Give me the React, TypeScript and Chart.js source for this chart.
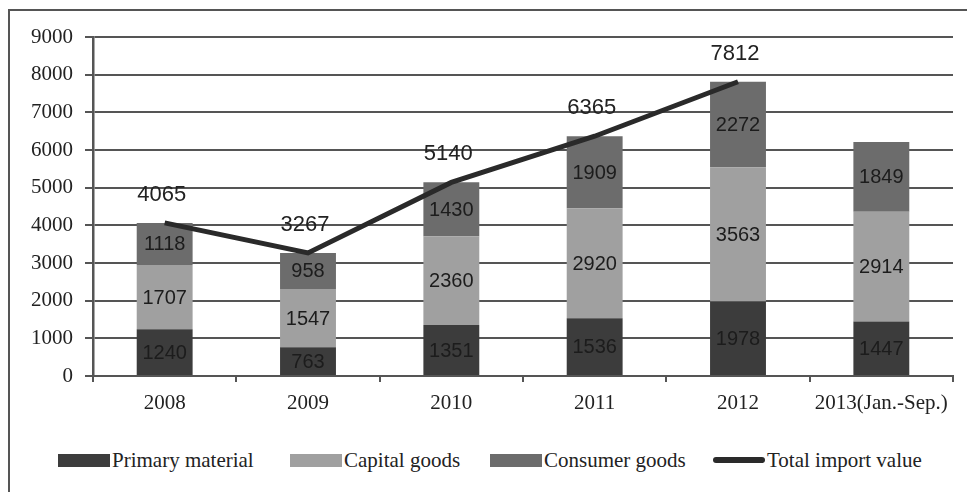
import React, { useEffect, useRef } from "react";
import { Chart, registerables } from "chart.js";

Chart.register(...registerables);

const categories = ["2008", "2009", "2010", "2011", "2012", "2013(Jan.-Sep.)"];
const primaryMaterial = [1240, 763, 1351, 1536, 1978, 1447];
const capitalGoods = [1707, 1547, 2360, 2920, 3563, 2914];
const consumerGoods = [1118, 958, 1430, 1909, 2272, 1849];
const totalImport: (number | null)[] = [4065, 3267, 5140, 6365, 7812, null];
const yTicks = [0, 1000, 2000, 3000, 4000, 5000, 6000, 7000, 8000, 9000];

const legendItems = [
  { label: "Primary material", color: "#3c3c3c", kind: "box", left: 48 },
  { label: "Capital goods", color: "#a0a0a0", kind: "box", left: 280 },
  { label: "Consumer goods", color: "#6c6c6c", kind: "box", left: 480 },
  { label: "Total import value", color: "#2a2a2a", kind: "line", left: 703 },
];

const SERIF = "'Liberation Serif', 'Times New Roman', serif";
const SANS = "'Liberation Sans', Arial, sans-serif";

const labelPlugin = {
  id: "valueLabels",
  afterDatasetsDraw(chart: any) {
    const ctx = chart.ctx;
    ctx.save();
    ctx.textAlign = "center";
    ctx.textBaseline = "middle";
    chart.data.datasets.forEach((ds: any, i: number) => {
      const meta = chart.getDatasetMeta(i);
      meta.data.forEach((el: any, j: number) => {
        const v = ds.data[j];
        if (v == null) return;
        if (ds.type === "line") {
          ctx.font = "22px " + SANS;
          ctx.fillStyle = "#222";
          ctx.fillText(String(v), el.x - 3, el.y - 28);
        } else {
          const yc = (el.y + el.base) / 2;
          ctx.font = "20px " + SANS;
          ctx.fillStyle = "#1c1c1c";
          ctx.fillText(String(v), el.x, yc + 1);
        }
      });
    });
    ctx.restore();
  },
};

export default function App() {
  const ref = useRef<HTMLCanvasElement>(null);
  useEffect(() => {
    if (!ref.current) return;
    const chart = new Chart(ref.current, {
      type: "bar",
      data: {
        labels: categories,
        datasets: [
          {
            type: "line",
            label: "Total import value",
            data: totalImport,
            borderColor: "#2a2a2a",
            backgroundColor: "#2a2a2a",
            borderWidth: 5,
            pointRadius: 0,
            stack: "total",
            order: 0,
            spanGaps: false,
          } as any,
          {
            label: "Primary material",
            data: primaryMaterial,
            backgroundColor: "#3c3c3c",
            stack: "bars",
            order: 1,
          },
          {
            label: "Capital goods",
            data: capitalGoods,
            backgroundColor: "#a0a0a0",
            stack: "bars",
            order: 1,
          },
          {
            label: "Consumer goods",
            data: consumerGoods,
            backgroundColor: "#6c6c6c",
            stack: "bars",
            order: 1,
          },
        ],
      },
      options: {
        responsive: false,
        animation: false,
        layout: { padding: { top: 26, right: 14, left: 0, bottom: 0 } },
        datasets: {
          bar: { categoryPercentage: 1, barPercentage: 0.39 },
        },
        plugins: {
          legend: { display: false },
          tooltip: { enabled: false },
        },
        scales: {
          x: {
            stacked: true,
            offset: true,
            grid: {
              offset: true,
              drawOnChartArea: false,
              drawTicks: true,
              tickLength: 6,
              color: "#555",
              lineWidth: 2,
            },
            border: { color: "#555", width: 2 },
            ticks: {
              color: "#222",
              font: { family: SERIF, size: 21 },
              padding: 9,
              maxRotation: 0,
              autoSkip: false,
            },
            afterFit: (s: any) => {
              s.height = 55;
            },
          },
          y: {
            stacked: true,
            min: 0,
            max: 9000,
            afterBuildTicks: (s: any) => {
              s.ticks = yTicks.map((v) => ({ value: v }));
            },
            grid: {
              color: "#555",
              lineWidth: 2,
              drawTicks: true,
              tickLength: 8,
            },
            border: { color: "#555", width: 2.5 },
            ticks: {
              color: "#222",
              font: { family: SERIF, size: 21 },
              padding: 12,
              callback: (v: any) => String(v),
            },
            afterFit: (s: any) => {
              s.width = 83;
            },
          },
        },
      },
      plugins: [labelPlugin],
    });
    return () => chart.destroy();
  }, []);

  return (
    <div
      style={{
        position: "absolute",
        left: 8,
        top: 9,
        width: 959,
        height: 483,
        borderTop: "2px solid #555",
        borderLeft: "2px solid #555",
        boxSizing: "border-box",
      }}
    >
      <canvas
        ref={ref}
        width={957}
        height={420}
        style={{ position: "absolute", left: 0, top: 0, width: 957, height: 420 }}
      />
      {legendItems.map((it) => (
        <div
          key={it.label}
          style={{
            position: "absolute",
            left: it.left,
            top: 437,
            height: 24,
            display: "flex",
            alignItems: "center",
            fontFamily: SERIF,
            fontSize: 21,
            color: "#222",
            whiteSpace: "nowrap",
          }}
        >
          <span
            style={{
              display: "inline-block",
              width: 52,
              height: it.kind === "box" ? 13 : 6,
              borderRadius: it.kind === "box" ? 0 : 3,
              background: it.color,
              marginRight: 2,
            }}
          />
          <span>{it.label}</span>
        </div>
      ))}
    </div>
  );
}
